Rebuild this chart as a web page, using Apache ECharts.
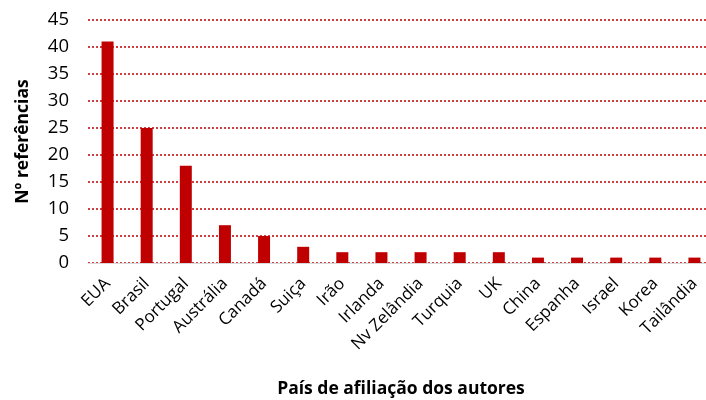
<!DOCTYPE html>
<html>
<head>
<meta charset="utf-8">
<script src="https://cdn.jsdelivr.net/npm/echarts@6/dist/echarts.min.js"></script>
<style>
  html, body { margin: 0; padding: 0; background: #fff; }
  #chart { width: 706px; height: 400px; }
</style>
</head>
<body>
<div id="chart"></div>
<script>
// países e número de referências
var paises = ["EUA", "Brasil", "Portugal", "Austrália", "Canadá", "Suiça", "Irão", "Irlanda",
  "Nv Zelândia", "Turquia", "UK", "China", "Espanha", "Israel", "Korea", "Tailândia"];
var referencias = [41, 25, 18, 7, 5, 3, 2, 2, 2, 2, 2, 1, 1, 1, 1, 1];

var fonte = "'Open Sans', 'Liberation Sans', sans-serif";
var myChart = echarts.init(document.getElementById("chart"));
myChart.setOption({
  animation: false,
  grid: { left: 88, top: 20, width: 626, height: 243, outerBoundsMode: "none", containLabel: false },
  xAxis: {
    type: "category",
    data: paises,
    axisTick: { show: false },
    axisLine: { lineStyle: { color: "#d9d9d9", width: 1 } },
    axisLabel: { rotate: 45, color: "#000", fontSize: 17, fontFamily: fonte, margin: 18, interval: 0 },
    name: "País de afiliação dos autores",
    nameLocation: "middle",
    nameGap: 117,
    nameTextStyle: { fontSize: 17.5, fontWeight: "bold", color: "#000", fontFamily: fonte }
  },
  yAxis: {
    type: "value",
    min: 0,
    max: 45,
    interval: 5,
    axisLabel: { color: "#000", fontSize: 18.5, fontFamily: fonte, margin: 19 },
    splitLine: { lineStyle: { color: "#c00000", type: [2, 2], width: 1.5 } },
    name: "Nº referências",
    nameLocation: "middle",
    nameGap: 56,
    nameTextStyle: { fontSize: 17.5, fontWeight: "bold", color: "#000", fontFamily: fonte }
  },
  series: [{
    type: "bar",
    data: referencias,
    barWidth: 12,
    itemStyle: { color: "#c00000" }
  }]
});
</script>
</body>
</html>
